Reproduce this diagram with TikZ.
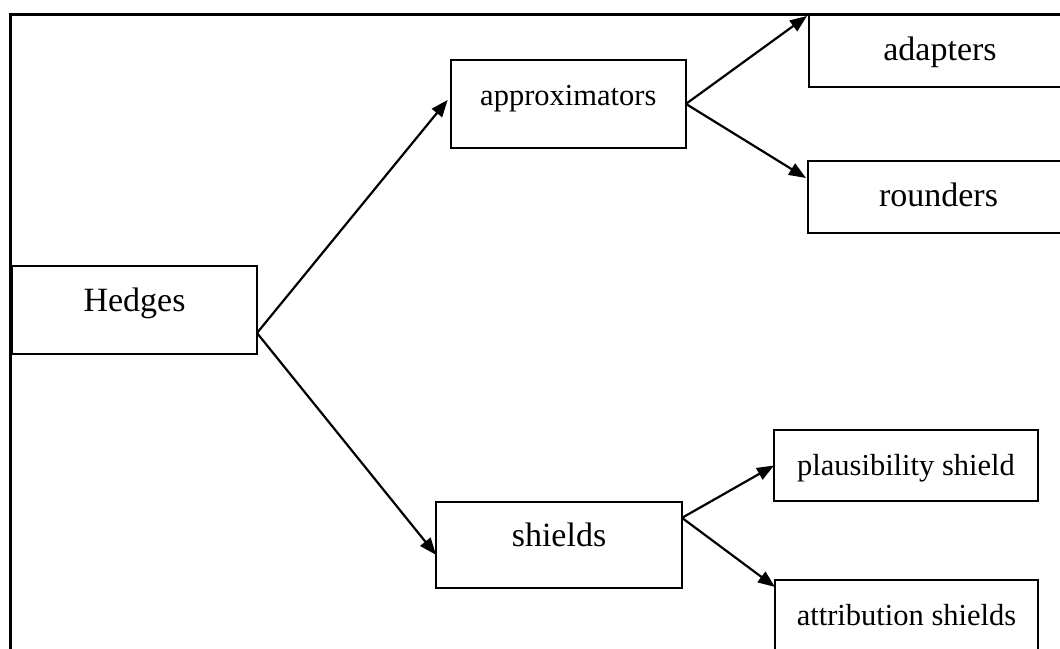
\documentclass[tikz,border=0pt]{standalone}
\usepackage{fontspec}
\setmainfont{Liberation Serif}
\usetikzlibrary{arrows.meta}
\begin{document}
\begin{tikzpicture}[x=1pt,y=-1pt,
  box/.style={draw, line width=2pt, inner sep=0pt, outer sep=0pt, text height=45pt},
  big/.style={font=\fontsize{34}{40}\selectfont},
  small/.style={font=\fontsize{30.5}{36}\selectfont},
  conn/.style={line width=2.2pt, -{Triangle[length=17pt,width=13pt]}}]
\useasboundingbox (0,0) rectangle (1060,648);
\clip (0,0) rectangle (1060,648);
\draw[line width=3pt] (1080,14.5) -- (10.5,14.5) -- (10.5,670);
\node[box,big,minimum width=245pt,minimum height=88pt,text depth=42pt] (hedges) at (134.5,310) {Hedges};
\node[box,small,minimum width=235.3pt,minimum height=87.7pt,text depth=42.7pt] (approx) at (568.3,103.9) {approximators};
\node[box,big,minimum width=262pt,minimum height=72pt,text depth=27pt] (adapters) at (940,51) {adapters};
\node[box,big,minimum width=261pt,minimum height=72pt,text depth=27pt] (rounders) at (938.5,197) {rounders};
\node[box,big,minimum width=246pt,minimum height=86.3pt,text depth=41.3pt] (shields) at (559,544.85) {shields};
\node[box,small,minimum width=264pt,minimum height=71pt,text depth=26pt] (plaus) at (906,465.5) {plausibility shield};
\node[box,small,minimum width=263pt,minimum height=72pt,text depth=27pt] (attrib) at (906.5,616) {attribution shields};
\draw[conn] ([yshift=-23pt]hedges.east) -- ([xshift=-3pt,yshift=4pt]approx.west);
\draw[conn] ([yshift=-23pt]hedges.east) -- ([yshift=-10pt]shields.west);
\draw[conn] (approx.east) -- ([xshift=-2pt,yshift=-1pt]adapters.north west);
\draw[conn] (approx.east) -- ([xshift=-2pt,yshift=-17pt]rounders.north west);
\draw[conn] ([yshift=27pt]shields.east) -- (plaus.west);
\draw[conn] ([yshift=27pt]shields.east) -- ([yshift=-7pt]attrib.north west);
\end{tikzpicture}
\end{document}
